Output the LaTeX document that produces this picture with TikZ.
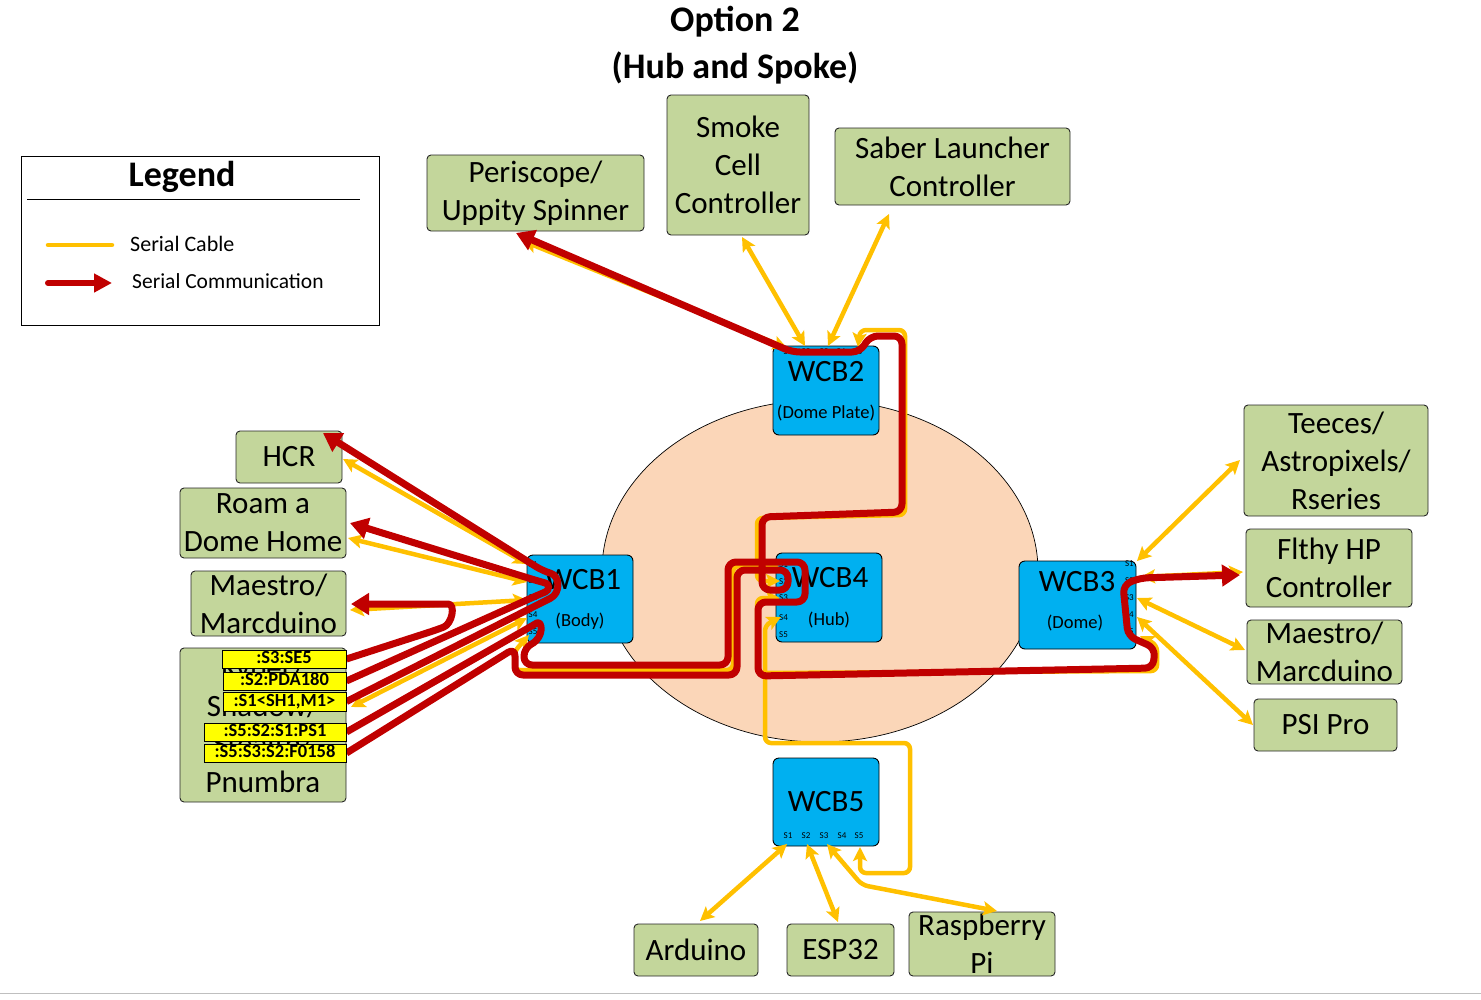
\documentclass[tikz,border=0pt]{standalone}
\usepackage{fontspec}
\setmainfont{Carlito}
\usetikzlibrary{arrows.meta,shapes.geometric}

\definecolor{cable}{HTML}{FFC000}
\definecolor{comm}{HTML}{C00000}
\definecolor{boardblue}{HTML}{00B0F0}
\definecolor{devgreen}{HTML}{C3D69B}
\definecolor{domepeach}{HTML}{FBD6B8}
\definecolor{tagyellow}{HTML}{FFFF00}

\pgfdeclarelayer{boxes}
\pgfdeclarelayer{wires}
\pgfsetlayers{boxes,wires,main}

\tikzset{
  device/.style={draw=black!85, line width=0.9pt, fill=devgreen, rounded corners=4pt,
    align=center, inner sep=0pt, font=\fontsize{31}{38}\selectfont},
  board/.style={draw=black, line width=0.9pt, fill=boardblue, rounded corners=6pt, inner sep=0pt},
  boardname/.style={inner sep=0pt, font=\fontsize{31}{36}\selectfont},
  boardsub/.style={inner sep=0pt, font=\fontsize{18.5}{22}\selectfont},
  port/.style={inner sep=0pt, font=\fontsize{9}{10}\selectfont},
  tag/.style={draw=black, line width=0.9pt, fill=tagyellow, inner sep=0pt,
    text height=12.5pt, text depth=3.5pt, font=\bfseries\fontsize{18.5}{20}\selectfont},
  cablewire/.style={draw=cable, line width=4.5pt, rounded corners=6pt,
    {Stealth[length=14pt,width=14pt,inset=3pt]}-{Stealth[length=14pt,width=14pt,inset=3pt]}},
  commwire/.style={draw=comm, line width=7pt, rounded corners=8pt, line join=round,
    -{Triangle[length=18pt,width=21pt]}},
}

\begin{document}
\begin{tikzpicture}[x=1pt,y=-1pt]
\useasboundingbox (0,0) rectangle (1481,999);

\begin{pgfonlayer}{boxes}
\draw[black!25, line width=1pt] (0,993) -- (1481,993);

% title
\node[font=\bfseries\fontsize{36}{43}\selectfont] (title1) at (735,22) {Option 2};
\node[font=\bfseries\fontsize{36}{43}\selectfont] (title2) at (735,68) {(Hub and Spoke)};

% legend
\node[draw=black, line width=1pt, minimum width=358pt, minimum height=169pt, inner sep=0pt] (legend) at (200,240.5) {};
\node[font=\bfseries\fontsize{36}{40}\selectfont] (legtitle) at (182,177) {Legend};
\coordinate (rule1) at (27,199); \coordinate (rule2) at (360,199);
\draw[line width=1pt] (rule1) -- (rule2);
\coordinate (lc1) at (48,245); \coordinate (lc2) at (112,245);
\draw[cable, line width=4.5pt, line cap=round] (lc1) -- (lc2);
\coordinate (lr1) at (48,283); \coordinate (lr2) at (112,283);
\draw[comm, line width=6pt, line cap=round, -{Triangle[length=18pt,width=18pt]}] (lr1) -- (lr2);
\node[anchor=west, inner sep=0pt, font=\fontsize{22}{26}\selectfont] (legcable) at (130,244) {Serial Cable};
\node[anchor=west, inner sep=0pt, font=\fontsize{21.5}{26}\selectfont] (legcomm) at (132,281) {Serial Communication};

% dome
\node[draw=black, line width=0.7pt, fill=domepeach, ellipse, inner sep=0pt,
  minimum width=436pt, minimum height=342pt] (dome) at (820,571) {};

% devices
\node[device, minimum width=217pt, minimum height=76pt] (peri) at (535.5,193) {Periscope/\\Uppity Spinner};
\node[device, minimum width=142pt, minimum height=140pt] (smoke) at (738,165) {Smoke\\Cell\\Controller};
\node[device, minimum width=235pt, minimum height=77pt] (saber) at (952.5,166.5) {Saber Launcher\\Controller};
\node[device, minimum width=106pt, minimum height=52pt] (hcr) at (289,457) {HCR};
\node[device, minimum width=166pt, minimum height=70pt] (roam) at (263,523) {Roam a\\Dome Home};
\node[device, minimum width=155pt, minimum height=65pt] (maeL) at (268.5,603.5) {Maestro/\\Marcduino};
\node[device, minimum width=166pt, minimum height=154pt] (shadow) at (263,725) {Kyber/\\Shadow/\\Stealth/\\Pnumbra};
\node[device, minimum width=184pt, minimum height=111pt] (teeces) at (1336,460.5) {Teeces/\\Astropixels/\\Rseries};
\node[device, minimum width=166pt, minimum height=78pt] (flthy) at (1329,568) {Flthy HP\\Controller};
\node[device, minimum width=155pt, minimum height=64pt] (maeR) at (1324.5,652) {Maestro/\\Marcduino};
\node[device, minimum width=143pt, minimum height=52pt] (psi) at (1325.5,725) {PSI Pro};
\node[device, minimum width=124pt, minimum height=52pt] (ard) at (696,950) {Arduino};
\node[device, minimum width=107pt, minimum height=52pt] (esp) at (840.5,950) {ESP32};
\node[device, minimum width=146pt, minimum height=64pt] (rpi) at (982,944) {Raspberry\\Pi};

% boards
\node[board, minimum width=106pt, minimum height=89pt] (wcb2) at (826,390.5) {};
\node[boardname] (wcb2n) at (826,372) {WCB2};
\node[boardsub] (wcb2d) at (826,413) {(Dome Plate)};
\foreach \i/\px in {1/788,2/806,3/824,4/841,5/858}
  \node[port] (w2l\i) at (\px,352) {S\i};

\node[board, minimum width=106pt, minimum height=88pt] (wcb1) at (580,599) {};
\node[boardname] (wcb1n) at (583,580) {WCB1};
\node[boardsub] (wcb1d) at (580,621) {(Body)};
\foreach \i/\py in {1/565,2/581,3/598,4/615,5/632}
  \node[port, anchor=west] (w1l\i) at (528.5,\py) {S\i};

\node[board, minimum width=106pt, minimum height=89pt] (wcb4) at (829,597.5) {};
\node[boardname] (wcb4n) at (830,578) {WCB4};
\node[boardsub] (wcb4d) at (829,620) {(Hub)};
\foreach \i/\py in {1/565,2/582,3/598,4/618,5/635}
  \node[port, anchor=west] (w4l\i) at (779,\py) {S\i};

\node[board, minimum width=117pt, minimum height=88pt] (wcb3) at (1077.5,605) {};
\node[boardname] (wcb3n) at (1077,582) {WCB3};
\node[boardsub] (wcb3d) at (1075,623) {(Dome)};
\foreach \i/\py in {1/564,2/581,3/598,4/615,5/632}
  \node[port, anchor=east] (w3l\i) at (1134,\py) {S\i};

\node[board, minimum width=106pt, minimum height=88pt] (wcb5) at (826,802) {};
\node[boardname] (wcb5n) at (826,802) {WCB5};
\foreach \i/\px in {1/788,2/806,3/824,4/842,5/859}
  \node[port] (w5l\i) at (\px,836) {S\i};
\end{pgfonlayer}

% address tags on the Kyber box
\node[tag, minimum width=124pt, minimum height=18pt] (tse5) at (284,659) {:S3:SE5};
\node[tag, minimum width=123pt, minimum height=18pt] (tpda) at (284.5,681) {:S2:PDA180};
\node[tag, minimum width=123pt, minimum height=19pt] (tsh1) at (284.5,701.5) {:S1<SH1,M1>};
\node[tag, minimum width=142pt, minimum height=18pt] (tps1) at (275,732) {:S5:S2:S1:PS1};
\node[tag, minimum width=142pt, minimum height=18pt] (tf0158) at (275,753) {:S5:S3:S2:F0158};

% cable attach points on the boards
\coordinate (w2c1) at (787,348); \coordinate (w2c2) at (805,346);
\coordinate (w2c3) at (828,346); \coordinate (w2c5) at (858,347);
\coordinate (w1c1) at (527,564); \coordinate (w1c2) at (527,582);
\coordinate (w1c3) at (527,600); \coordinate (w1c4) at (527,618);
\coordinate (w1c5) at (529,635);
\coordinate (w4c1) at (779,566); \coordinate (w4c2) at (780,581);
\coordinate (w4c3) at (780,598); \coordinate (w4c4) at (781,617);
\coordinate (w3c1) at (1137,561); \coordinate (w3c2) at (1141,577);
\coordinate (w3c3) at (1137,598); \coordinate (w3c4) at (1137,617);
\coordinate (w3c5) at (1140,636);
\coordinate (w5c1) at (787,844); \coordinate (w5c2) at (807,844);
\coordinate (w5c3) at (827,844); \coordinate (w5c5) at (860,847);

% cable attach points on the devices
\coordinate (periC) at (523,241);   \coordinate (periR) at (516,233);
\coordinate (smokeC) at (742,237);
\coordinate (saberC) at (889,214);
\coordinate (hcrC) at (343,459);    \coordinate (hcrR) at (323,433);
\coordinate (roamC) at (348,538);   \coordinate (roamR) at (350,523);
\coordinate (maeLC) at (350,610);   \coordinate (maeLR) at (351,604);
\coordinate (shadowC) at (351,707);
\coordinate (teecesC) at (1240,460);
\coordinate (flthyC) at (1243,572); \coordinate (flthyR) at (1240,575);
\coordinate (maeRC) at (1245,650);
\coordinate (psiC) at (1253,725);
\coordinate (ardC) at (700,921);
\coordinate (espC) at (838,922);
\coordinate (rpiC) at (997,911);

\begin{pgfonlayer}{wires}
% serial cables
\draw[cablewire] (periC) -- (w2c1);
\draw[cablewire] (smokeC) -- (w2c2);
\draw[cablewire] (saberC) -- (w2c3);
\draw[cablewire] (w2c5) -- (860,330) -- (905,330) -- (905,515) -- (757,518) -- (757,581) -- (w4c2);
\draw[cablewire] (hcrC) -- (w1c1);
\draw[cablewire] (roamC) -- (w1c2);
\draw[cablewire] (maeLC) -- (w1c3);
\draw[cablewire] (shadowC) -- (w1c4);
\draw[cablewire] (w1c5) -- (514,652) -- (514,670) -- (733,670) -- (733,566) -- (w4c1);
\draw[cablewire] (w3c5) -- (1157,645) -- (1157,671) -- (757,673) -- (757,598) -- (w4c3);
\draw[cablewire] (w5c5) -- (860,873) -- (910,873) -- (910,743) -- (765,743) -- (765,625) -- (w4c4);
\draw[cablewire] (teecesC) -- (w3c1);
\draw[cablewire] (flthyC) -- (w3c2);
\draw[cablewire] (maeRC) -- (w3c3);
\draw[cablewire] (psiC) -- (w3c4);
\draw[cablewire] (ardC) -- (w5c1);
\draw[cablewire] (espC) -- (w5c2);
\draw[cablewire] (rpiC) -- (862,885) -- (w5c3);

% serial communication routes
\draw[commwire] (tf0158.east) -- (515,648) -- (515,675) -- (737,675) -- (737,570) -- (788,570)
  -- (788,590) -- (762,590) -- (762,517) -- (902,512) -- (902,336) -- (870,336)
  -- (860,352) -- (792,352) -- (periR);
\draw[commwire] (tps1.east) -- (530,627) .. controls (542,620) and (545,637) .. (524,648)
  -- (524,665) -- (728,665) -- (728,562) -- (805,562) -- (805,602) -- (758,602)
  -- (758,676) -- (1153,668) -- (1155,648) -- (1128,636) -- (1123,585) -- (1140,578) -- (flthyR);
\draw[commwire] (tsh1.east) -- (543,602) .. controls (561,593) and (560,576) .. (543,571) -- (hcrR);
\draw[commwire] (tpda.east) -- (538,595) .. controls (550,590) and (549,584) .. (538,581) -- (roamR);
\draw[commwire] (tse5.east) -- (436,630) .. controls (452,624) and (456,604) .. (440,604) -- (maeLR);
\end{pgfonlayer}
\end{tikzpicture}
\end{document}
